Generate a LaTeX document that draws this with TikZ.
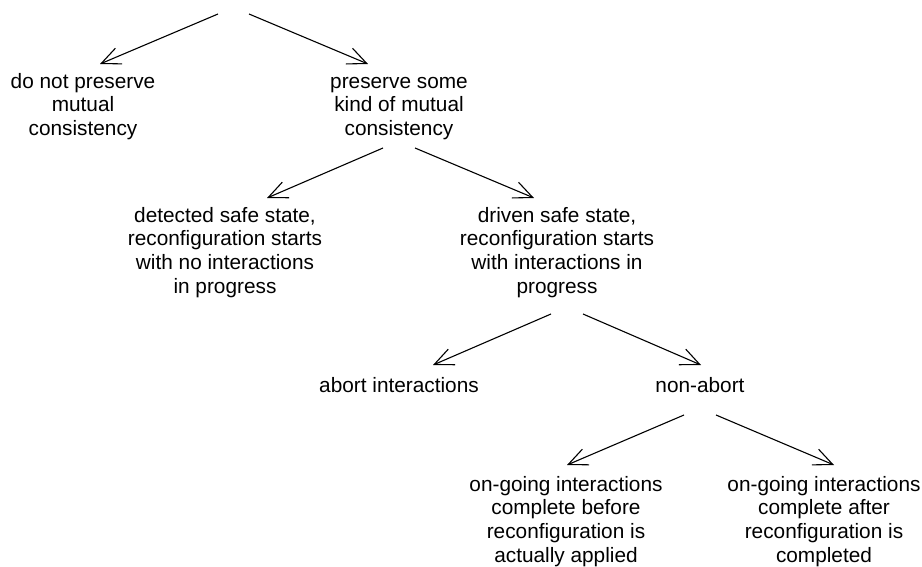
\documentclass[tikz,border=0pt]{standalone}
\usepackage{fontspec}
\setmainfont{Liberation Sans}
\usetikzlibrary{arrows.meta}
\begin{document}
\begin{tikzpicture}[x=1pt,y=1pt,
  label/.style={anchor=north,align=center,inner sep=0pt,
    font=\fontsize{20.8}{23.8}\selectfont},
  branch/.style={-{Straight Barb[length=19pt,width=17pt]},line width=1.1pt}]
\useasboundingbox (0,0) rectangle (922,-567);
% decision tree: root point and option labels
\coordinate (root) at (233.5,-14);
\node[label] (donot)    at (83,-71.3)   {\strut do not preserve\\mutual\\consistency};
\node[label] (pres)     at (399,-71.3)  {\strut preserve some\\kind of mutual\\consistency};
\node[label] (det)      at (225,-205.3) {\strut detected safe state,\\reconfiguration starts\\with no interactions\\in progress};
\node[label] (driven)   at (557,-205.3) {\strut driven safe state,\\reconfiguration starts\\with interactions in\\progress};
\node[label] (abort)    at (399,-375.3) {\strut abort interactions};
\node[label] (nonabort) at (700,-375.3) {\strut non-abort};
\node[label] (before)   at (566,-474.3) {\strut on-going interactions\\complete before\\reconfiguration is\\actually applied};
\node[label] (after)    at (824,-474.3) {\strut on-going interactions\\complete after\\reconfiguration is\\completed};
% branches
\draw[branch] ([xshift=-15.5pt]root) -- ([shift={(17pt,7.3pt)}]donot.north);
\draw[branch] ([xshift=15.5pt]root) -- ([shift={(-31pt,7.3pt)}]pres.north);
\draw[branch] ([shift={(-16pt,-76.7pt)}]pres.north) -- ([shift={(42pt,7.3pt)}]det.north);
\draw[branch] ([shift={(16pt,-76.7pt)}]pres.north) -- ([shift={(-23pt,7.3pt)}]driven.north);
\draw[branch] ([shift={(-6pt,-108.7pt)}]driven.north) -- ([shift={(34pt,10.3pt)}]abort.north);
\draw[branch] ([shift={(26pt,-108.7pt)}]driven.north) -- ([shift={(1pt,10.3pt)}]nonabort.north);
\draw[branch] ([shift={(-16pt,-39.7pt)}]nonabort.north) -- ([shift={(1pt,9.3pt)}]before.north);
\draw[branch] ([shift={(16pt,-39.7pt)}]nonabort.north) -- ([shift={(10pt,9.3pt)}]after.north);
\end{tikzpicture}
\end{document}
